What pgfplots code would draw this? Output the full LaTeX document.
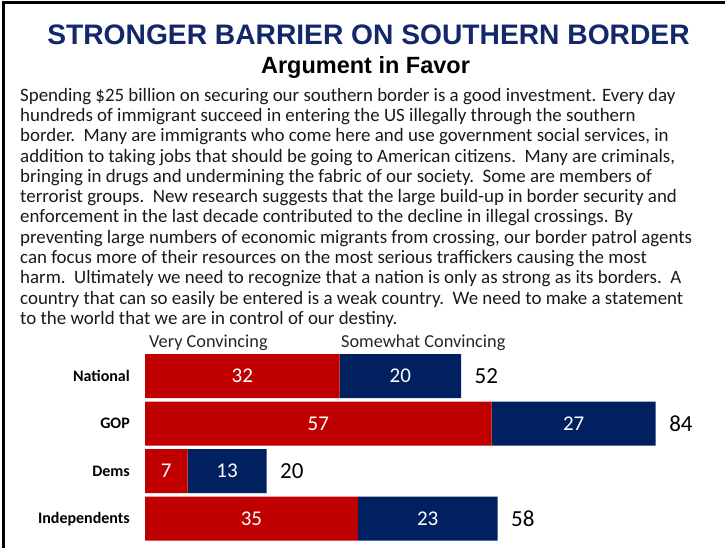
\documentclass[border=0pt]{standalone}
\usepackage{pgfplots}
\pgfplotsset{compat=1.18}
\usepackage{pgfplotstable}
\usepackage{fontspec}
\setmainfont{Carlito}
\newfontfamily\arial{Liberation Sans}
\definecolor{barred}{HTML}{C00000}
\definecolor{barnavy}{HTML}{002060}
\definecolor{titlenavy}{HTML}{12286B}

\pgfplotstableread{
row very some total
0 32 20 52
1 57 27 84
2 7 13 20
3 35 23 58
}\datatable

\pgfplotsset{
  barframe/.style={
    at={(145bp,5.55bp)}, anchor=south west,
    scale only axis, width=577.6bp, height=190bp,
    xmin=0, xmax=95, ymin=-0.5, ymax=3.5, enlargelimits=false,
    y dir=reverse,
    axis line style={draw=none}, major tick length=0pt,
    xtick=\empty,
    /pgf/number format/assume math mode=true,
    nodes near coords, point meta=explicit,
  }
}

\begin{document}
\begin{tikzpicture}[x=1bp,y=1bp]
  \useasboundingbox (0,0) rectangle (725,548);
  \draw[line width=3bp] (3,0) -- (3,545) -- (725,545);

  % titles
  \node[font=\arial\bfseries\fontsize{28.2bp}{30bp}\selectfont, text=titlenavy] at (368.5,513)
    {STRONGER BARRIER ON SOUTHERN BORDER};
  \node[font=\arial\bfseries\fontsize{23.5bp}{26bp}\selectfont, anchor=base] at (365.5,474.5)
    {Argument in Favor};

  % argument text, one line per node
  \foreach \ln [count=\i from 0] in {
    {Spending \$25 billion on securing our southern border is a good investment. Every day},
    {hundreds of immigrant succeed in entering the US illegally through the southern},
    {border.\ \ Many are immigrants who come here and use government social services, in},
    {addition to taking jobs that should be going to American citizens.\ \ Many are criminals,},
    {bringing in drugs and undermining the fabric of our society.\ \ Some are members of},
    {terrorist groups.\ \ New research suggests that the large build-up in border security and},
    {enforcement in the last decade contributed to the decline in illegal crossings. By},
    {preventing large numbers of economic migrants from crossing, our border patrol agents},
    {can focus more of their resources on the most serious traffickers causing the most},
    {harm.\ \ Ultimately we need to recognize that a nation is only as strong as its borders.\ \ A},
    {country that can so easily be entered is a weak country.\ \ We need to make a statement},
    {to the world that we are in control of our destiny.}}
    \node[anchor=base west, inner sep=0pt, font=\fontsize{18.9bp}{20bp}\selectfont, text=black!90]
      at (20,{446.8-20.3*\i}) {\ln};

  % series names
  \node[anchor=base west, inner sep=0pt, font=\fontsize{18.3bp}{20bp}\selectfont, text=black!85]
    at (149,200) {Very Convincing};
  \node[anchor=base west, inner sep=0pt, font=\fontsize{18.3bp}{20bp}\selectfont, text=black!85]
    at (341,200) {Somewhat Convincing};

  % stacked bars, segment values centred in each segment
  \begin{axis}[barframe,
      xbar stacked, bar width=44bp,
      ytick={0,1,2,3},
      yticklabels={National,GOP,Dems,Independents},
      yticklabel style={font=\bfseries\fontsize{16bp}{18bp}\selectfont, inner sep=0pt, xshift=-15bp},
    ]
    \addplot[fill=barred, draw=none,
      visualization depends on={\thisrow{very} \as \seg},
      every node near coord/.append style={anchor=center, xshift={-\seg*3.04bp},
        text=white, font=\fontsize{21bp}{23bp}\selectfont}]
      table[x=very, y=row, meta=very] \datatable;
    \addplot[fill=barnavy, draw=none,
      visualization depends on={\thisrow{some} \as \seg},
      every node near coord/.append style={anchor=center, xshift={-\seg*3.04bp},
        text=white, font=\fontsize{21bp}{23bp}\selectfont}]
      table[x=some, y=row, meta=some] \datatable;
  \end{axis}

  % totals beside the bars
  \begin{axis}[barframe, ytick=\empty]
    \addplot[only marks, mark=none,
      every node near coord/.append style={anchor=west, xshift=10bp,
        text=black, font=\fontsize{23bp}{25bp}\selectfont}]
      table[x=total, y=row, meta=total] \datatable;
  \end{axis}
\end{tikzpicture}
\end{document}
